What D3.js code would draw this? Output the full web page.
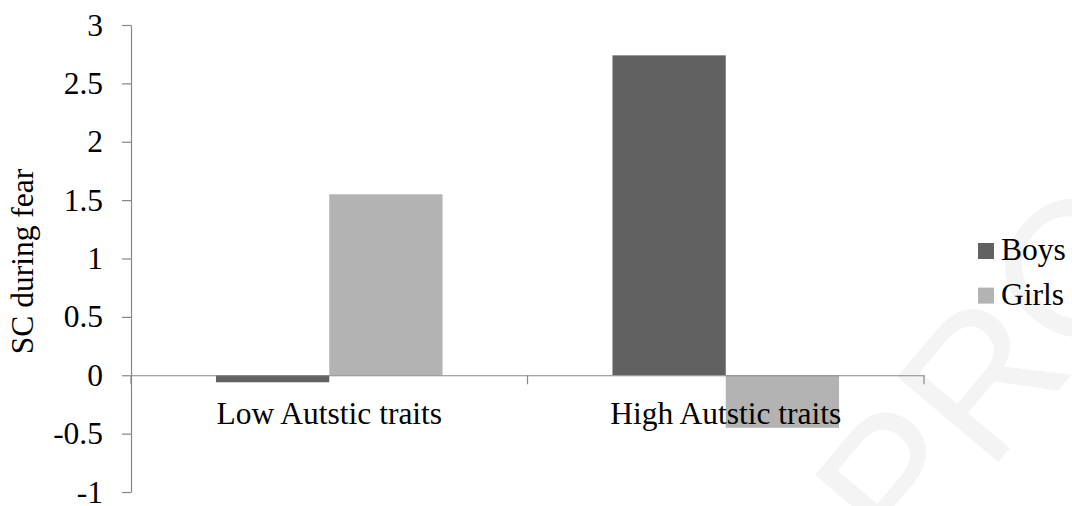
<!DOCTYPE html>
<html>
<head>
<meta charset="utf-8">
<script src="https://cdn.jsdelivr.net/npm/d3@7"></script>
<style>
  html, body { margin: 0; padding: 0; background: #ffffff; }
  svg { display: block; }
  text { font-family: "Liberation Serif", "Times New Roman", serif; fill: #000; }
</style>
</head>
<body>
<svg id="chart" width="1072" height="506"></svg>
<script>
// ---- data ----
const categories = ["Low Autstic traits", "High Autstic traits"];
const seriesNames = ["Boys", "Girls"];
const boysValues = [-0.06, 2.74];
const girlsValues = [1.55, -0.45];
const yTickValues = [-1, -0.5, 0, 0.5, 1, 1.5, 2, 2.5, 3];
const yTitle = "SC during fear";
const watermark = "PROOF";

const colors = { Boys: "#616161", Girls: "#b3b3b3" };
const axisColor = "#878787";
const fontSize = 31.5;
const serif = "'Liberation Serif', 'Times New Roman', serif";

const rows = categories.map((c, i) => ({ category: c, Boys: boysValues[i], Girls: girlsValues[i] }));

const svg = d3.select("#chart");

// watermark (very faint)
svg.append("text")
  .attr("transform", "translate(906,572) rotate(-50)")
  .style("font-family", "'Liberation Sans', Arial, sans-serif")
  .style("font-size", "192px")
  .style("fill", "#f4f4f4")
  .text(watermark);

const x0 = d3.scaleBand().domain(categories).range([131, 924]).paddingInner(0).paddingOuter(0);
const x1 = d3.scaleBand().domain(seriesNames).range([0, x0.bandwidth()]).paddingInner(0).paddingOuter(0.75);
const y = d3.scaleLinear().domain([-1, 3]).range([492, 25]);

// bars
const groups = svg.append("g").selectAll("g").data(rows).join("g")
  .attr("transform", d => `translate(${x0(d.category)},0)`);
groups.selectAll("rect")
  .data(d => seriesNames.map(s => ({ key: s, value: d[s] })))
  .join("rect")
  .attr("x", d => x1(d.key))
  .attr("width", x1.bandwidth())
  .attr("y", d => y(Math.max(0, d.value)))
  .attr("height", d => Math.abs(y(d.value) - y(0)))
  .attr("fill", d => colors[d.key]);

// y axis
const yAxis = d3.axisLeft(y)
  .tickValues(yTickValues)
  .tickFormat(d => String(d))
  .tickSize(9)
  .tickSizeOuter(0)
  .tickPadding(19);
const gy = svg.append("g").attr("transform", "translate(131,0)").call(yAxis);
gy.attr("font-family", null).attr("font-size", null);
gy.select(".domain").attr("stroke", axisColor).attr("stroke-width", 1.2);
gy.selectAll(".tick line").attr("stroke", axisColor).attr("stroke-width", 1.2);
gy.selectAll(".tick text").style("font-size", fontSize + "px").style("font-family", serif).attr("fill", "#000");

// x axis (zero line)
const xAxis = d3.axisBottom(x0).tickSize(0).tickPadding(26).tickSizeOuter(0);
const gx = svg.append("g").attr("transform", `translate(0,${y(0)})`).call(xAxis);
gx.attr("font-family", null).attr("font-size", null);
gx.select(".domain").attr("stroke", axisColor).attr("stroke-width", 1.2);
gx.selectAll(".tick text").style("font-size", fontSize + "px").style("font-family", serif).attr("fill", "#000");

// category boundary ticks
const boundaries = categories.map(c => x0(c)).concat([x0.range()[1]]);
svg.append("g").selectAll("line").data(boundaries).join("line")
  .attr("x1", d => d).attr("x2", d => d)
  .attr("y1", y(0)).attr("y2", y(0) + 9)
  .attr("stroke", axisColor).attr("stroke-width", 1.2);

// y title
svg.append("text")
  .attr("transform", `translate(33,${(y(3) + y(-1)) / 2 + 3}) rotate(-90)`)
  .attr("text-anchor", "middle")
  .style("font-size", fontSize + "px")
  .style("font-family", serif)
  .text(yTitle);

// legend
const legend = svg.append("g").selectAll("g").data(seriesNames).join("g")
  .attr("transform", (d, i) => `translate(978,${243 + i * 44.6})`);
legend.append("rect").attr("width", 16).attr("height", 16).attr("fill", d => colors[d]);
legend.append("text").attr("x", 23).attr("y", 17)
  .style("font-size", fontSize + "px").style("font-family", serif).text(d => d);
</script>
</body>
</html>
